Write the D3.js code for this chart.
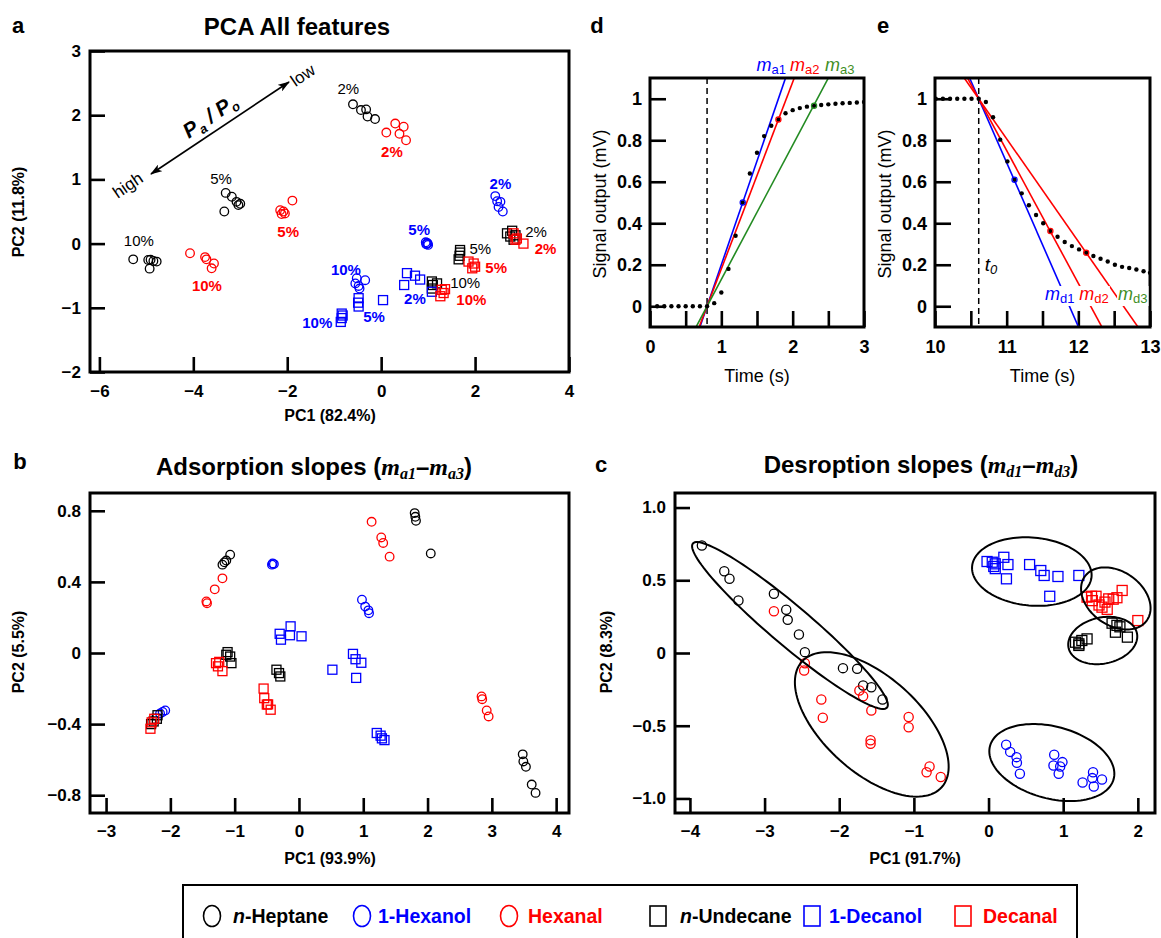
<!DOCTYPE html>
<html>
<head>
<meta charset="utf-8">
<title>PCA and slopes</title>
<script src="https://d3js.org/d3.v7.min.js"></script>
<style>
  body { margin: 0; background: #fff; }
  text { font-family: "Liberation Sans", Arial, Helvetica, sans-serif; }
</style>
</head>
<body>
<svg width="1161" height="938" id="mainsvg"></svg>
<script>
// ---------- data ----------
const seriesNames = ['n-Heptane', '1-Hexanol', 'Hexanal', 'n-Undecane', '1-Decanol', 'Decanal'];
const seriesShapes = ['circle', 'circle', 'circle', 'square', 'square', 'square'];
const seriesColors = ['#000000', '#0000ff', '#ff0000', '#000000', '#0000ff', '#ff0000'];

// panel a: PCA all features
const aHeptane = [[-5.28,-0.245],[-4.96,-0.255],[-4.91,-0.25],[-4.78,-0.28],[-4.93,-0.39],[-4.85,-0.27],
  [-3.31,0.79],[-3.18,0.73],[-3.08,0.65],[-3.0,0.62],[-3.34,0.50],[-3.04,0.60],
  [-0.60,2.17],[-0.43,2.08],[-0.32,2.09],[-0.29,1.98],[-0.13,1.94]];
const aHexanol = [[2.43,0.74],[2.54,0.65],[2.50,0.57],[2.59,0.50],[2.47,0.66],
  [0.95,0.02],[0.99,0.0],[1.0,-0.02],[0.96,-0.01],[0.98,0.01],
  [-0.52,-0.54],[-0.34,-0.57],[-0.48,-0.66],[-0.46,-0.70],[-0.55,-0.62]];
const aHexanal = [[-4.07,-0.15],[-3.75,-0.21],[-3.72,-0.245],[-3.56,-0.31],[-3.61,-0.385],
  [-2.15,0.52],[-2.08,0.50],[-2.05,0.47],[-2.12,0.46],[-1.89,0.67],
  [0.30,1.87],[0.48,1.82],[0.11,1.73],[0.39,1.71],[0.53,1.61]];
const aUndecane = [[2.68,0.16],[2.79,0.20],[2.86,0.13],[2.82,0.06],[2.75,0.11],
  [1.68,-0.14],[1.67,-0.19],[1.65,-0.245],[1.68,-0.10],
  [1.08,-0.59],[1.10,-0.645],[1.08,-0.70],[1.19,-0.62]];
const aDecanol = [[0.55,-0.46],[0.72,-0.50],[0.83,-0.56],[0.49,-0.645],[1.08,-0.75],
  [-0.48,-0.85],[-0.48,-0.98],[0.04,-0.88],[-0.49,-0.92],
  [-0.84,-1.09],[-0.84,-1.16],[-0.86,-1.22],[-0.82,-1.12]];
const aDecanal = [[2.82,0.16],[2.89,0.08],[3.03,0.0],[2.86,0.06],
  [1.86,-0.28],[1.97,-0.31],[2.0,-0.36],[1.94,-0.385],
  [1.29,-0.72],[1.36,-0.71],[1.26,-0.82],[1.33,-0.77]];
// concentration labels: [text, x, y, series index]
const aPctLabels = [
  ['2%',-0.70,2.41,0],['5%',-3.41,1.01,0],['10%',-5.16,0.04,0],
  ['2%',3.30,0.18,3],['5%',2.11,-0.08,3],['10%',1.79,-0.61,3],
  ['2%',0.23,1.43,2],['5%',-1.98,0.18,2],['10%',-3.71,-0.66,2],
  ['2%',3.50,-0.08,5],['5%',2.45,-0.38,5],['10%',1.92,-0.88,5],
  ['2%',2.54,0.94,1],['5%',0.81,0.21,1],['10%',-0.75,-0.40,1],
  ['2%',0.72,-0.86,4],['5%',-0.15,-1.14,4],['10%',-1.36,-1.24,4]
];

// panel b: adsorption slopes
const bHeptane = [[-1.07,0.553],[-1.16,0.51],[-1.19,0.497],[-1.13,0.52],[1.80,0.787],[1.81,0.766],[1.82,0.744],[2.05,0.56],
  [3.48,-0.57],[3.49,-0.61],[3.53,-0.64],[3.62,-0.74],[3.68,-0.787]];
const bHexanol = [[-0.41,0.504],[-0.39,0.50],[-0.42,0.497],[-2.08,-0.323],[-2.12,-0.332],[-2.16,-0.34],
  [0.98,0.30],[1.03,0.261],[1.08,0.24],[1.09,0.224]];
const bHexanal = [[-1.19,0.42],[-1.31,0.358],[-1.43,0.28],[-1.44,0.29],[1.13,0.738],[1.28,0.65],[1.31,0.619],[1.41,0.542],
  [2.84,-0.244],[2.85,-0.26],[2.92,-0.323],[2.95,-0.357]];
const bUndecane = [[-1.11,0.005],[-1.07,-0.02],[-1.05,-0.057],[-1.13,-0.01],[-0.35,-0.094],[-0.31,-0.113],[-0.29,-0.132],
  [-2.30,-0.40],[-2.21,-0.37],[-2.20,-0.35],[-2.26,-0.385]];
const bDecanol = [[-0.30,0.108],[-0.28,0.075],[-0.13,0.15],[0.04,0.094],[-0.14,0.10],[0.52,-0.094],[0.84,-0.005],[0.88,-0.035],
  [0.97,-0.055],[0.89,-0.14],[1.21,-0.45],[1.27,-0.465],[1.29,-0.48],[1.33,-0.49]];
const bDecanal = [[-1.29,-0.057],[-1.26,-0.075],[-1.19,-0.102],[-1.24,-0.05],[-0.55,-0.20],[-0.54,-0.254],[-0.48,-0.289],
  [-0.44,-0.319],[-0.50,-0.29],[-2.31,-0.426],[-2.29,-0.39],[-2.25,-0.37]];

// panel c: desorption slopes
const cHeptane = [[-3.84,0.739],[-3.54,0.562],[-3.47,0.51],[-3.35,0.361],[-2.875,0.407],[-2.71,0.297],[-2.69,0.228],
  [-2.54,0.127],[-2.46,0.006],[-1.95,-0.104],[-1.76,-0.109],[-1.68,-0.223],[-1.57,-0.235],[-1.42,-0.32]];
const cHexanol = [[0.236,-0.631],[0.29,-0.68],[0.375,-0.716],[0.38,-0.755],[0.42,-0.83],[0.88,-0.70],[0.99,-0.75],
  [0.87,-0.773],[0.94,-0.83],[0.96,-0.78],[1.40,-0.82],[1.39,-0.86],[1.52,-0.87],[1.26,-0.89],[1.41,-0.918]];
const cHexanal = [[-2.875,0.287],[-2.47,-0.12],[-2.46,-0.07],[-2.24,-0.32],[-2.22,-0.445],[-1.73,-0.258],[-1.68,-0.297],
  [-1.57,-0.395],[-1.58,-0.60],[-1.58,-0.624],[-1.07,-0.44],[-1.07,-0.51],[-0.79,-0.78],[-0.83,-0.82],[-0.64,-0.853]];
const cUndecane = [[1.165,0.074],[1.21,0.063],[1.25,0.086],[1.32,0.097],[1.21,0.052],[1.655,0.205],[1.72,0.19],
  [1.70,0.143],[1.86,0.109],[1.76,0.18]];
const cDecanol = [[-0.02,0.629],[0.05,0.624],[0.07,0.595],[0.09,0.613],[0.205,0.658],[0.26,0.608],[0.24,0.51],
  [0.55,0.608],[0.70,0.567],[0.745,0.533],[0.93,0.526],[1.21,0.533],[0.82,0.39],[0.09,0.58]];
const cDecanal = [[1.32,0.384],[1.38,0.39],[1.39,0.36],[1.48,0.33],[1.52,0.315],[1.59,0.30],[1.61,0.372],[1.67,0.37],
  [1.72,0.38],[1.79,0.43],[2.0,0.223],[1.56,0.35],[1.44,0.39]];
// group ellipses: centre, half major axis vector u, half minor axis vector v (data units)
const cEllipses = [
  {cx:-2.66, cy:0.189, ux:-1.30, uy:0.564, vx:-0.172, vy:-0.105},
  {cx:-1.564, cy:-0.491, ux:0.936, uy:-0.432, vx:-0.430, vy:-0.245},
  {cx:0.58, cy:0.56, ux:0.80, uy:-0.036, vx:-0.04, vy:-0.233},
  {cx:1.705, cy:0.375, ux:0.417, uy:-0.150, vx:-0.207, vy:-0.152},
  {cx:1.53, cy:0.086, ux:0.458, uy:0.050, vx:0.064, vy:-0.155},
  {cx:0.848, cy:-0.753, ux:0.828, uy:-0.114, vx:-0.125, vy:-0.239}
];

// panel d: adsorption transient
const dTime = [0.1,0.2,0.3,0.4,0.5,0.6,0.7,0.8,0.9,1.0,1.1,1.2,1.3,1.4,1.5,1.6,1.7,1.8,1.9,2.0,
  2.1,2.2,2.3,2.4,2.5,2.6,2.7,2.8,2.9,3.0];
const dSignal = [0,0,0,0,0,0,0,0,0.015,0.066,0.18,0.34,0.50,0.64,0.74,0.82,0.87,0.90,0.93,0.945,
  0.955,0.962,0.966,0.970,0.973,0.976,0.978,0.980,0.982,0.984];
const dT0 = 0.8;
const dSlopeNames = ['a1', 'a2', 'a3'];
const dSlopes = [1.0, 0.9, 0.647];
const dFitTimes = [1.3, 1.8, 2.3];

// panel e: desorption transient
const eTime = [10.01,10.11,10.21,10.31,10.41,10.51,10.61,10.71,10.81,10.91,11.01,11.11,11.21,11.31,11.41,11.51,
  11.61,11.71,11.81,11.91,12.01,12.11,12.21,12.31,12.41,12.51,12.61,12.71,12.81,12.91,13.0];
const eSignal = [1,1,1,1,1,1,1.0,0.984,0.911,0.803,0.698,0.61,0.544,0.487,0.44,0.40,
  0.363,0.335,0.31,0.29,0.274,0.258,0.242,0.229,0.216,0.20,0.19,0.184,0.177,0.169,0.161];
const eT0 = 10.61;
const eSlopeNames = ['d1', 'd2', 'd3'];
const eSlopes = [-0.79, -0.64, -0.495];
const eFitTimes = [11.11, 11.61, 12.11];

// ---------- drawing ----------
const svg = d3.select('#mainsvg');
const SANS = '"Liberation Sans", Arial, Helvetica, sans-serif';
const SERIF = '"Liberation Serif", "Times New Roman", serif';
const GREEN = '#238b22';
const LABEL_GREEN = '#3f8f1f';

const defs = svg.append('defs');

function makePanel(p) {
  const x = d3.scaleLinear().domain(p.xDomain).range([p.left, p.right]);
  const y = d3.scaleLinear().domain(p.yDomain).range([p.bottom, p.top]);
  const g = svg.append('g');
  const xAxis = d3.axisBottom(x).tickValues(p.xTicks).tickSize(-p.tick).tickPadding(p.xPad).tickFormat(p.xFormat);
  g.append('g').attr('transform', `translate(0,${p.bottom})`).call(xAxis);
  const yAxis = d3.axisLeft(y).tickValues(p.yTicks).tickSize(-p.tick).tickPadding(p.yPad).tickFormat(p.yFormat);
  g.append('g').attr('transform', `translate(${p.left},0)`).call(yAxis);
  g.selectAll('.domain').remove();
  g.selectAll('.tick line').attr('stroke', '#000').attr('stroke-width', 2.6);
  g.selectAll('.tick text').attr('font-size', p.fontSize || 17).attr('font-weight', 'bold')
    .attr('fill', '#000').attr('font-family', SANS);
  const plot = g.append('g');
  g.append('rect').attr('x', p.left).attr('y', p.top)
    .attr('width', p.right - p.left).attr('height', p.bottom - p.top)
    .attr('fill', 'none').attr('stroke', '#000').attr('stroke-width', 3);
  return {g, plot, x, y, p};
}

function drawPoints(P, pts, shape, color, r) {
  const grp = P.plot.append('g');
  if (shape === 'circle') {
    grp.selectAll('circle').data(pts).join('circle')
      .attr('cx', d => P.x(d[0])).attr('cy', d => P.y(d[1])).attr('r', r)
      .attr('fill', 'none').attr('stroke', color).attr('stroke-width', 1.3);
  } else {
    grp.selectAll('rect').data(pts).join('rect')
      .attr('x', d => P.x(d[0]) - r).attr('y', d => P.y(d[1]) - r)
      .attr('width', 2 * r).attr('height', 2 * r)
      .attr('fill', 'none').attr('stroke', color).attr('stroke-width', 1.3);
  }
}

function label(x, y, txt, opts = {}) {
  const t = svg.append('text').attr('x', x).attr('y', y).text(txt)
    .attr('font-size', opts.size || 16).attr('font-weight', opts.weight || 'bold')
    .attr('text-anchor', opts.anchor || 'middle').attr('fill', opts.color || '#000');
  if (opts.rotate) t.attr('transform', `rotate(${opts.rotate},${x},${y})`);
  return t;
}

const intFmt = d3.format('');

// ----- panel a -----
const A = makePanel({left: 90, right: 569, top: 51, bottom: 372, xDomain: [-6.2, 4.0], yDomain: [-2, 3],
  xTicks: [-6, -4, -2, 0, 2, 4], yTicks: [-2, -1, 0, 1, 2, 3], tick: 15, xPad: 13, yPad: 9,
  xFormat: intFmt, yFormat: intFmt});
const aSeries = [aHeptane, aHexanol, aHexanal, aUndecane, aDecanol, aDecanal];
aSeries.forEach((pts, i) => drawPoints(A, pts, seriesShapes[i], seriesColors[i], seriesShapes[i] === 'circle' ? 4.3 : 4.5));
A.plot.append('g').selectAll('text').data(aPctLabels).join('text')
  .attr('x', d => A.x(d[1])).attr('y', d => A.y(d[2])).attr('dy', '0.35em')
  .attr('text-anchor', 'middle').attr('font-size', 15)
  .attr('font-weight', d => seriesColors[d[3]] === '#000000' ? 'normal' : 'bold')
  .attr('fill', d => seriesColors[d[3]]).text(d => d[0]);

// arrow P_a / P_o
defs.append('marker').attr('id', 'ah').attr('viewBox', '0 0 12 8').attr('refX', 11).attr('refY', 4)
  .attr('markerWidth', 12).attr('markerHeight', 8).attr('markerUnits', 'userSpaceOnUse')
  .attr('orient', 'auto-start-reverse')
  .append('path').attr('d', 'M0,0 L12,4 L0,8 L3,4 Z').attr('fill', '#000');
svg.append('line').attr('x1', 151).attr('y1', 174).attr('x2', 289).attr('y2', 82)
  .attr('stroke', '#000').attr('stroke-width', 1.6)
  .attr('marker-start', 'url(#ah)').attr('marker-end', 'url(#ah)');
label(131, 190, 'high', {size: 17, weight: 'normal', rotate: -34});
label(306, 80, 'low', {size: 17, weight: 'normal', rotate: -34});
const pp = svg.append('text').attr('transform', 'translate(214,122) rotate(-34)')
  .attr('text-anchor', 'middle').attr('font-weight', 'bold').attr('font-style', 'italic').attr('font-size', 21);
pp.append('tspan').text('P');
pp.append('tspan').attr('font-size', 13).attr('dy', 4).text('a');
pp.append('tspan').attr('dy', -4).text(' / P');
pp.append('tspan').attr('font-size', 13).attr('dy', 4).text('o');

label(18, 33, 'a', {size: 22});
label(297, 35, 'PCA All features', {size: 24});
label(330, 421, 'PC1 (82.4%)', {size: 16});
label(24, 212, 'PC2 (11.8%)', {size: 16, rotate: -90});

// ----- panel b -----
const B = makePanel({left: 90, right: 569, top: 493, bottom: 813, xDomain: [-3.25, 4.2], yDomain: [-0.9, 0.9],
  xTicks: [-3, -2, -1, 0, 1, 2, 3, 4], yTicks: [-0.8, -0.4, 0, 0.4, 0.8], tick: 15, xPad: 12, yPad: 9,
  xFormat: intFmt, yFormat: d => d === 0 ? '0' : d3.format('.1f')(d)});
[bHeptane, bHexanol, bHexanal, bUndecane, bDecanol, bDecanal]
  .forEach((pts, i) => drawPoints(B, pts, seriesShapes[i], seriesColors[i], seriesShapes[i] === 'circle' ? 4.3 : 4.5));

function slopeTitle(cx, y, prefix, s1, s2) {
  const t = svg.append('text').attr('x', cx).attr('y', y).attr('text-anchor', 'middle')
    .attr('font-size', 24).attr('font-weight', 'bold');
  t.append('tspan').text(prefix + ' (');
  t.append('tspan').attr('font-family', SERIF).attr('font-style', 'italic').text('m');
  t.append('tspan').attr('font-family', SERIF).attr('font-style', 'italic').attr('font-size', 16).attr('dy', 4).text(s1);
  t.append('tspan').attr('dy', -4).text('\u2013');
  t.append('tspan').attr('font-family', SERIF).attr('font-style', 'italic').text('m');
  t.append('tspan').attr('font-family', SERIF).attr('font-style', 'italic').attr('font-size', 16).attr('dy', 4).text(s2);
  t.append('tspan').attr('dy', -4).text(')');
}
label(20, 469, 'b', {size: 22});
slopeTitle(314, 475, 'Adsorption slopes', 'a1', 'a3');
label(330, 864, 'PC1 (93.9%)', {size: 16});
label(24, 652, 'PC2 (5.5%)', {size: 16, rotate: -90});

// ----- panel c -----
const C = makePanel({left: 675, right: 1155, top: 493, bottom: 813, xDomain: [-4.2, 2.23], yDomain: [-1.1, 1.1],
  xTicks: [-4, -3, -2, -1, 0, 1, 2], yTicks: [-1, -0.5, 0, 0.5, 1], tick: 15, xPad: 12, yPad: 9,
  xFormat: intFmt, yFormat: d => d === 0 ? '0' : d3.format('.1f')(d)});
[cHeptane, cHexanol, cHexanal, cUndecane, cDecanol, cDecanal]
  .forEach((pts, i) => drawPoints(C, pts, seriesShapes[i], seriesColors[i], seriesShapes[i] === 'circle' ? 4.6 : 5));
const angles = d3.range(0, 2 * Math.PI, Math.PI / 60);
const ellLine = d3.line().curve(d3.curveLinearClosed);
C.plot.append('g').selectAll('path').data(cEllipses).join('path')
  .attr('d', e => ellLine(angles.map(t => [
    C.x(e.cx + e.ux * Math.cos(t) + e.vx * Math.sin(t)),
    C.y(e.cy + e.uy * Math.cos(t) + e.vy * Math.sin(t))])))
  .attr('fill', 'none').attr('stroke', '#000').attr('stroke-width', 2);
label(601, 472, 'c', {size: 22});
slopeTitle(921, 473, 'Desroption slopes', 'd1', 'd3');
label(915, 864, 'PC1 (91.7%)', {size: 16});
label(612, 652, 'PC2 (8.3%)', {size: 16, rotate: -90});

// ----- panels d and e -----
function transientPanel(o) {
  const P = makePanel({left: o.left, right: o.right, top: 78, bottom: 327, xDomain: o.xDomain, yDomain: [-0.1, 1.1],
    xTicks: o.xTicks, yTicks: [0, 0.2, 0.4, 0.6, 0.8, 1], tick: 16, xPad: 13, yPad: 8, fontSize: 18,
    xFormat: d => Number.isInteger(d) ? String(d) : '', yFormat: d3.format('')});
  const clipId = 'clip' + o.id;
  defs.append('clipPath').attr('id', clipId).append('rect')
    .attr('x', o.left).attr('y', 78).attr('width', o.right - o.left).attr('height', 327 - 78);
  const inner = P.plot.append('g').attr('clip-path', `url(#${clipId})`);
  // dashed t0
  inner.append('line').attr('x1', P.x(o.t0)).attr('x2', P.x(o.t0)).attr('y1', 78).attr('y2', 327)
    .attr('stroke', '#000').attr('stroke-width', 1.5).attr('stroke-dasharray', '6,4');
  // fitted slope lines through (t0, v0)
  const [x0, x1] = o.xDomain;
  inner.selectAll('line.fit').data(o.slopes).join('line').attr('class', 'fit')
    .attr('x1', P.x(x0)).attr('y1', (d) => P.y(o.v0 + d * (x0 - o.t0)))
    .attr('x2', P.x(x1)).attr('y2', (d) => P.y(o.v0 + d * (x1 - o.t0)))
    .attr('stroke', (d, i) => o.lineColors[i]).attr('stroke-width', 1.6);
  // signal samples
  inner.selectAll('circle.sig').data(o.time).join('circle').attr('class', 'sig')
    .attr('cx', d => P.x(d)).attr('cy', (d, i) => P.y(o.signal[i])).attr('r', 2.2).attr('fill', '#000');
  // fit anchor points
  inner.selectAll('circle.fitpt').data(o.fitTimes).join('circle').attr('class', 'fitpt')
    .attr('cx', d => P.x(d)).attr('cy', d => P.y(o.signal[o.time.indexOf(d)]))
    .attr('r', 2.6).attr('fill', 'none').attr('stroke', (d, i) => o.lineColors[i]).attr('stroke-width', 1.2);
  // axis titles
  label((o.left + o.right) / 2, 382, 'Time (s)', {size: 18, weight: 'normal'});
  label(o.left - 44, 204, 'Signal output (mV)', {size: 18, weight: 'normal', rotate: -90});
  return P;
}

function slopeLabel(x, y, sub, color, bg) {
  const t = svg.append('text').attr('x', x).attr('y', y).attr('text-anchor', 'middle')
    .attr('font-family', SERIF).attr('fill', color);
  t.append('tspan').attr('font-style', 'italic').attr('font-size', 18).text('m');
  t.append('tspan').attr('font-size', 13).attr('dy', 3).text(sub);
  if (bg) {
    const bb = t.node().getBBox();
    svg.insert('rect', () => t.node()).attr('x', bb.x - 1).attr('y', bb.y + 2)
      .attr('width', bb.width + 2).attr('height', bb.height - 2).attr('fill', '#fff');
  }
}

const D = transientPanel({id: 'd', left: 650, right: 864, xDomain: [0, 3], xTicks: [0, 0.5, 1, 1.5, 2, 2.5, 3],
  time: dTime, signal: dSignal, t0: dT0, v0: 0, slopes: dSlopes, fitTimes: dFitTimes,
  lineColors: ['#0000ff', '#ff0000', GREEN]});
label(597, 33, 'd', {size: 22});
dSlopeNames.forEach((s, i) => {
  const tx = [1.70, 2.17, 2.66][i];
  slopeLabel(D.x(tx), 71, s, ['#0000ff', '#ff0000', LABEL_GREEN][i], false);
});

const E = transientPanel({id: 'e', left: 935, right: 1150, xDomain: [10, 13], xTicks: [10, 10.5, 11, 11.5, 12, 12.5, 13],
  time: eTime, signal: eSignal, t0: eT0, v0: 1.0, slopes: eSlopes, fitTimes: eFitTimes,
  lineColors: ['#0000ff', '#ff0000', '#ff0000']});
label(883, 33, 'e', {size: 22});
eSlopeNames.forEach((s, i) => {
  const tx = [11.74, 12.22, 12.76][i];
  slopeLabel(E.x(tx), E.y(0.03), s, ['#0000ff', '#ff0000', LABEL_GREEN][i], true);
});
const t0lab = svg.append('text').attr('x', E.x(10.78)).attr('y', E.y(0.17)).attr('text-anchor', 'middle')
  .attr('font-family', SERIF).attr('font-style', 'italic');
t0lab.append('tspan').attr('font-size', 19).text('t');
t0lab.append('tspan').attr('font-size', 13).attr('dy', 3).text('0');

// ----- legend -----
svg.append('rect').attr('x', 183).attr('y', 885).attr('width', 894).attr('height', 70)
  .attr('fill', 'none').attr('stroke', '#000').attr('stroke-width', 2);
const legendX = [212, 362, 509, 658, 812, 963];
const legendTextOffset = [21, 16, 19, 22, 17, 20];
const legend = svg.append('g').selectAll('g').data(seriesNames).join('g')
  .attr('transform', (d, i) => `translate(${legendX[i]},916)`);
legend.filter((d, i) => seriesShapes[i] === 'circle').append('ellipse')
  .attr('rx', 8.5).attr('ry', 10.5).attr('fill', 'none')
  .attr('stroke', (d) => seriesColors[seriesNames.indexOf(d)]).attr('stroke-width', 1.6);
legend.filter((d, i) => seriesShapes[i] === 'square').append('rect')
  .attr('x', -8).attr('y', -10).attr('width', 16).attr('height', 20).attr('fill', 'none')
  .attr('stroke', (d) => seriesColors[seriesNames.indexOf(d)]).attr('stroke-width', 1.6);
const ltext = legend.append('text').attr('x', (d, i) => legendTextOffset[i]).attr('y', 7)
  .attr('font-size', 19.5).attr('font-weight', 'bold')
  .attr('fill', d => seriesColors[seriesNames.indexOf(d)]);
ltext.each(function(d) {
  const t = d3.select(this);
  if (d.startsWith('n-')) {
    t.append('tspan').attr('font-style', 'italic').text('n');
    t.append('tspan').text(d.slice(1));
  } else {
    t.text(d);
  }
});
</script>
</body>
</html>
